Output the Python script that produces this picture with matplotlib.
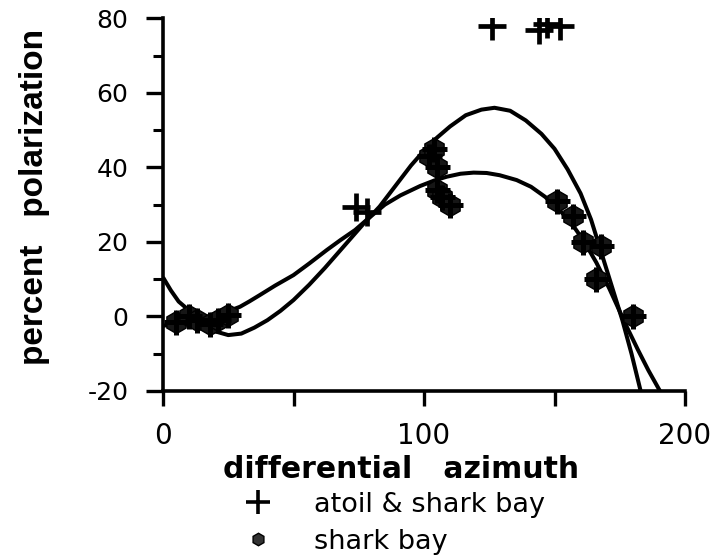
import numpy as np
import matplotlib
matplotlib.use("Agg")
import matplotlib.pyplot as plt
from matplotlib.lines import Line2D
from matplotlib.ticker import MultipleLocator

plt.rcParams['axes.unicode_minus'] = False

# atoll-only points (crosses)
atoll_x = [74, 78, 126, 144, 147, 152]
atoll_y = [29.5, 28, 78, 77, 78.5, 78]

# shark bay points (also in the combined set)
shark_x = [5, 10, 13, 18, 21, 25, 102, 104, 105, 105, 107, 110,
           151, 157, 161, 168, 166, 180]
shark_y = [-1.5, 0, -1, -2, -1, 0.5, 43, 45, 40, 34, 32, 30,
           31, 27, 20, 19, 10, 0]

# fitted curve, atoll & shark bay
fit_a_x = [0, 3, 6, 8.5, 12, 16, 20, 25, 30, 35, 40, 45, 50, 56, 62, 67, 72,
           77, 83, 89, 95, 100, 105, 110, 116, 122, 127, 133, 139, 145, 150,
           155, 160, 164, 168, 172, 176, 179.5, 183]
fit_a_y = [10.5, 7, 4, 2.5, 0, -2.5, -4, -5, -4.6, -3, -1, 1.5, 4.4, 8.5, 13,
           17, 21, 25, 29.5, 35, 40.5, 44.5, 48, 51, 54, 55.5, 56, 55.2, 52.6,
           49, 45, 39.5, 33, 26, 17, 8, -1, -10, -20]

# fitted curve, shark bay only
fit_b_x = [0, 5, 10, 15, 20, 25, 29.5, 33, 37, 43, 50, 56, 62.7, 68, 73.6, 79,
           85, 91, 98.5, 104, 108.7, 114, 119, 124, 129, 135.5, 141, 146.4,
           151, 156, 161, 166, 171, 177.7, 182, 186, 190.4]
fit_b_y = [-2.5, -2, -1.3, -0.5, 0.4, 1.4, 2.6, 4, 5.7, 8.3, 11.1, 14.2, 17.8,
           20.5, 23.2, 26.5, 30, 32.5, 35, 36.5, 37.5, 38.3, 38.6, 38.5, 37.9,
           36.6, 34.8, 32.1, 29.2, 25.5, 20.5, 14.5, 7.5, -2.8, -9, -14.5, -20]

fig = plt.figure(figsize=(7.2, 5.56), dpi=100)
ax = fig.add_axes([0.2264, 0.2968, 0.725, 0.6702])

ax.plot(fit_a_x, fit_a_y, color='black', lw=2.9, solid_capstyle='butt')
ax.plot(fit_b_x, fit_b_y, color='black', lw=2.9, solid_capstyle='butt')

ax.plot(shark_x, shark_y, 'h', color='#161616', mec='black', ms=16, mew=1)
ax.plot(shark_x, shark_y, '+', color='black', ms=18, mew=3.6)
ax.plot(atoll_x, atoll_y, '+', color='black', ms=20, mew=3.4)

ax.set_xlim(0, 200)
ax.set_ylim(-20, 80)
ax.spines['top'].set_visible(False)
ax.spines['right'].set_visible(False)
ax.spines['left'].set_linewidth(2.6)
ax.spines['bottom'].set_linewidth(2.6)

ax.set_xticks([0, 100, 200])
ax.xaxis.set_minor_locator(MultipleLocator(50))
ax.set_yticks([-20, 0, 20, 40, 60, 80])
ax.yaxis.set_minor_locator(MultipleLocator(10))
ax.tick_params(axis='x', which='both', direction='out', length=11, width=2.4,
               labelsize=20, pad=11)
ax.tick_params(axis='y', which='major', direction='out', length=12, width=2.4,
               labelsize=18, pad=13)
ax.tick_params(axis='y', which='minor', direction='out', length=7, width=2.2)

ax.set_xlabel('differential   azimuth', fontsize=21.5, fontweight='bold',
              family='DejaVu Sans')
ax.xaxis.set_label_coords(0.456, -0.172)
ax.set_ylabel('percent   polarization', fontsize=24, fontweight='bold',
              family='Liberation Sans')
ax.yaxis.set_label_coords(-0.216, 0.522)

handles = [Line2D([], [], ls='none', marker='+', color='black', ms=17, mew=2.6),
           Line2D([], [], ls='none', marker='h', color='#333333', mec='black',
                  ms=9, mew=1)]
fig.legend(handles, ['atoil & shark bay', 'shark bay'], loc='upper left',
           bbox_to_anchor=(0.339, 0.116), frameon=False, fontsize=19.5,
           handlelength=1.0, handletextpad=1.6, labelspacing=0.42,
           borderpad=0, borderaxespad=0)

fig.savefig('out.png', dpi=100)
